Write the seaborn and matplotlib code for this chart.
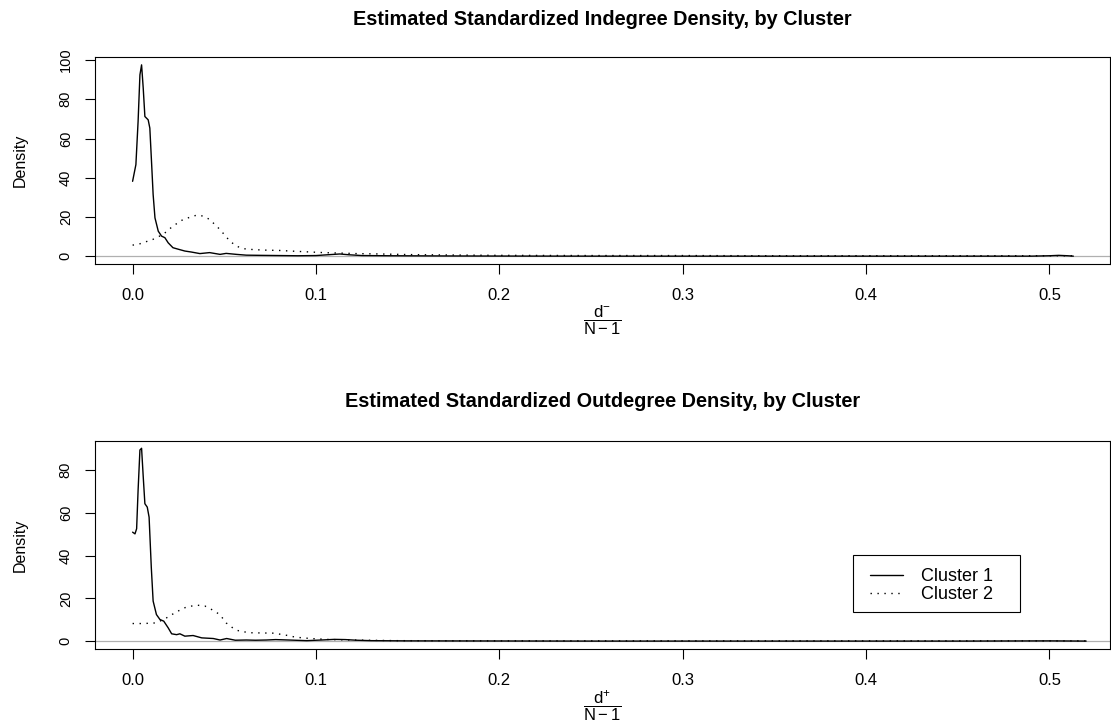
import matplotlib
matplotlib.use("Agg")
import matplotlib.pyplot as plt
from matplotlib.patches import Rectangle
import seaborn as sns
import pandas as pd

# ---- data ----
clusters = ["Cluster 1", "Cluster 2"]

in_c1_x = [0.0, 0.0018, 0.003, 0.004, 0.0049, 0.0058, 0.0067, 0.0085, 0.0094, 0.0104, 0.0112,
           0.0122, 0.014, 0.0158, 0.0176, 0.0194, 0.022, 0.025, 0.0285, 0.032, 0.0367, 0.042,
           0.0477, 0.051, 0.0566, 0.062, 0.07, 0.08, 0.09, 0.10, 0.108, 0.113, 0.118, 0.125,
           0.14, 0.17, 0.2, 0.25, 0.3, 0.35, 0.4, 0.45, 0.49, 0.5, 0.505, 0.51, 0.513]
in_c1_y = [38.2, 46.7, 68.7, 92.4, 97.5, 85.6, 71.2, 69.5, 65.3, 46.7, 31.5,
           19.6, 12.8, 10.3, 9.5, 6.9, 4.4, 3.6, 2.7, 2.2, 1.4, 1.9,
           1.0, 1.5, 1.0, 0.6, 0.5, 0.4, 0.3, 0.4, 0.9, 1.2, 0.8, 0.4,
           0.3, 0.2, 0.15, 0.1, 0.1, 0.1, 0.1, 0.1, 0.1, 0.3, 0.5, 0.3, 0.1]

in_c2_x = [0.0, 0.004, 0.011, 0.0167, 0.022, 0.0276, 0.035, 0.0385, 0.042, 0.0476, 0.053,
           0.0566, 0.0604, 0.065, 0.071, 0.08, 0.086, 0.095, 0.104, 0.115, 0.122, 0.135,
           0.15, 0.17, 0.2, 0.25, 0.3, 0.35, 0.4, 0.45, 0.5, 0.513]
in_c2_y = [5.7, 6.4, 8.6, 11.2, 15.4, 18.8, 21.0, 20.5, 18.8, 13.7, 7.8,
           5.2, 3.9, 3.5, 3.2, 3.0, 2.7, 2.3, 1.9, 1.6, 1.4, 1.2,
           0.9, 0.7, 0.5, 0.4, 0.4, 0.3, 0.3, 0.3, 0.3, 0.3]

out_c1_x = [0.0, 0.0013, 0.0022, 0.003, 0.004, 0.0049, 0.0058, 0.0067, 0.008, 0.009, 0.0102,
            0.0112, 0.013, 0.0149, 0.017, 0.0194, 0.0213, 0.024, 0.0258, 0.0285, 0.033, 0.0377,
            0.044, 0.0477, 0.0513, 0.056, 0.062, 0.067, 0.073, 0.078, 0.085, 0.095, 0.103,
            0.11, 0.116, 0.122, 0.13, 0.15, 0.2, 0.25, 0.3, 0.35, 0.4, 0.45, 0.5, 0.52]
out_c1_y = [51.0, 50.2, 52.6, 70.6, 89.4, 90.2, 76.9, 64.3, 62.7, 58.0, 34.5,
            18.8, 12.5, 10.2, 9.4, 6.3, 3.5, 3.1, 3.5, 2.4, 2.7, 1.6,
            1.3, 0.6, 1.3, 0.5, 0.6, 0.5, 0.6, 0.8, 0.6, 0.3, 0.6,
            0.9, 0.8, 0.5, 0.3, 0.2, 0.15, 0.1, 0.1, 0.1, 0.1, 0.1, 0.2, 0.1]

out_c2_x = [0.0, 0.0058, 0.013, 0.0186, 0.024, 0.0293, 0.0349, 0.0394, 0.043, 0.0476, 0.051,
            0.0558, 0.0586, 0.064, 0.07, 0.077, 0.084, 0.089, 0.097, 0.108, 0.12, 0.144,
            0.17, 0.2, 0.25, 0.3, 0.35, 0.4, 0.45, 0.5, 0.52]
out_c2_y = [8.3, 8.3, 8.6, 11.0, 13.8, 16.0, 16.9, 16.5, 14.9, 12.5, 8.6,
            5.5, 4.7, 4.0, 3.9, 3.8, 2.8, 1.9, 1.3, 0.8, 0.6, 0.3,
            0.25, 0.2, 0.2, 0.2, 0.2, 0.2, 0.2, 0.2, 0.2]

x_ticks = [0.0, 0.1, 0.2, 0.3, 0.4, 0.5]
x_tick_labels = ["0.0", "0.1", "0.2", "0.3", "0.4", "0.5"]
top_y_ticks = [0, 20, 40, 60, 80, 100]
bottom_y_ticks = [0, 20, 40, 60, 80]

titles = ["Estimated Standardized Indegree Density, by Cluster",
          "Estimated Standardized Outdegree Density, by Cluster"]
xlabels = [r"$\dfrac{\mathrm{d}^{-}}{\mathrm{N}-1}$", r"$\dfrac{\mathrm{d}^{+}}{\mathrm{N}-1}$"]


def frame(xs1, ys1, xs2, ys2):
    return pd.DataFrame({
        "x": list(xs1) + list(xs2),
        "density": list(ys1) + list(ys2),
        "cluster": [clusters[0]] * len(xs1) + [clusters[1]] * len(xs2),
    })


df_in = frame(in_c1_x, in_c1_y, in_c2_x, in_c2_y)
df_out = frame(out_c1_x, out_c1_y, out_c2_x, out_c2_y)

# ---- style ----
sns.set_theme(style="white")
plt.rcParams["font.family"] = ["Liberation Sans", "DejaVu Sans"]
plt.rcParams["mathtext.fontset"] = "custom"
plt.rcParams["mathtext.rm"] = "Liberation Sans"
plt.rcParams["mathtext.it"] = "Liberation Sans"
plt.rcParams["mathtext.bf"] = "Liberation Sans:bold"
for key in ["text.color", "axes.labelcolor", "xtick.color", "ytick.color", "axes.edgecolor"]:
    plt.rcParams[key] = "black"
plt.rcParams["axes.linewidth"] = 0.8

W, H = 1111, 728
fig = plt.figure(figsize=(W / 100, H / 100), dpi=100)
ax_top = fig.add_axes([95 / W, 1 - 264 / H, 1015 / W, 207 / H])
ax_bot = fig.add_axes([95 / W, 1 - 649 / H, 1015 / W, 208 / H])

dash_map = {clusters[0]: "", clusters[1]: (1, 4)}

panels = [
    (ax_top, df_in, (-3.9, 101.5), top_y_ticks, False, 25, 320),
    (ax_bot, df_out, (-3.6, 93.6), bottom_y_ticks, True, 407, 706),
]

for i, (ax, df, ylim, yt, show_leg, title_base, frac_y) in enumerate(panels):
    ax.axhline(0, color="#b0b0b0", lw=0.9, zorder=1)
    sns.lineplot(data=df, x="x", y="density", style="cluster", dashes=dash_map,
                 color="black", linewidth=1.0, estimator=None, sort=False,
                 legend=show_leg, ax=ax, zorder=2)
    ax.set_xlim(-0.0205, 0.533)
    ax.set_ylim(*ylim)
    ax.set_xticks(x_ticks)
    ax.set_xticklabels(x_tick_labels)
    ax.set_yticks(yt)
    ax.set_yticklabels([str(v) for v in yt], rotation=90, va="center")
    ax.tick_params(axis="both", which="both", direction="out", length=7, width=0.8,
                   color="black", bottom=True, left=True)
    ax.tick_params(axis="x", labelsize=12, pad=10)
    ax.tick_params(axis="y", labelsize=10.5, pad=9)
    ax.set_ylabel("Density", fontsize=11.5, labelpad=22)
    ax.set_xlabel("")
    for s in ax.spines.values():
        s.set_visible(True)
        s.set_color("black")
    fig.text(602.5 / W, 1 - title_base / H, titles[i], fontsize=14.3, fontweight="bold",
             ha="center", va="baseline")
    fig.text(602.5 / W, 1 - frac_y / H, xlabels[i], fontsize=12, ha="center", va="center")

# legend (bottom panel) with an R-style square frame
sns.move_legend(ax_bot, loc="upper left", bbox_to_anchor=((870 - 95) / 1015, (649 - 568) / 208),
                title=None, frameon=False, fontsize=13, handlelength=1.85,
                handletextpad=0.95, borderpad=0.0, borderaxespad=0.0, labelspacing=0.06)
ax_bot.add_patch(Rectangle(((853 - 95) / 1015, (649 - 612) / 208),
                           (1020 - 853) / 1015, (612 - 555) / 208,
                           transform=ax_bot.transAxes, fill=False, edgecolor="black",
                           linewidth=0.8, zorder=5))

fig.savefig("out.png", dpi=100)
